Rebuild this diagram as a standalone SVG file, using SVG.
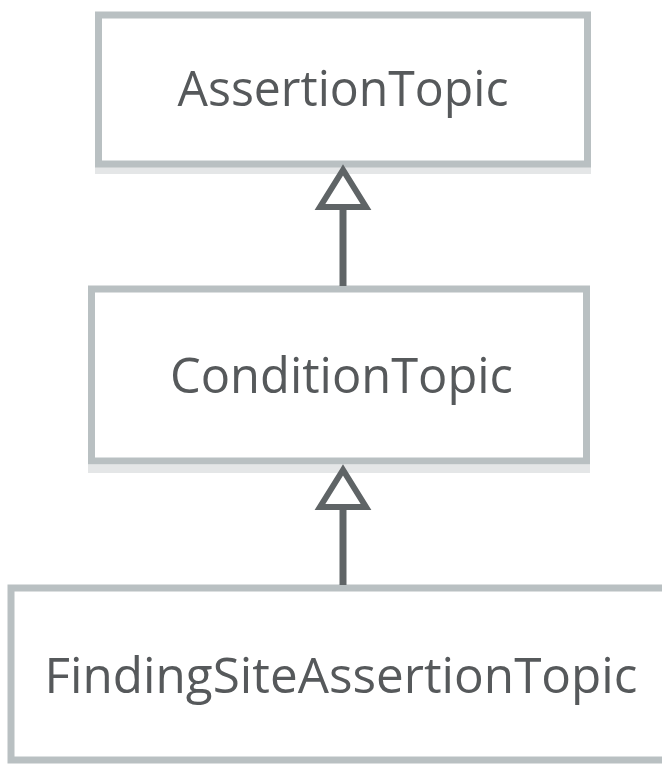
<svg xmlns="http://www.w3.org/2000/svg" width="662" height="765" viewBox="0 0 662 765">
<style>
.box{fill:#ffffff;stroke:#b9c0c2;stroke-width:7}
.shadow{fill:#e4e6e7}
.lbl{font-family:"Open Sans","Noto Sans",sans-serif;font-size:50px;fill:#56595b;text-anchor:middle}
.line{stroke:#5f6466;stroke-width:7;fill:none}
.head{fill:#ffffff;stroke:#5f6466;stroke-width:6;stroke-linejoin:miter}
</style>
<rect width="662" height="765" fill="#ffffff"/>
<g id="node-assertion">
<rect class="shadow" x="95" y="167" width="496" height="7"/>
<rect class="box" x="98.5" y="15" width="489" height="149"/>
<text class="lbl" x="343" y="106" textLength="331" lengthAdjust="spacingAndGlyphs">AssertionTopic</text>
</g>
<g id="node-condition">
<rect class="shadow" x="88" y="465" width="502" height="8"/>
<rect class="box" x="91.5" y="289" width="495" height="172"/>
<text class="lbl" x="341.5" y="393" textLength="343" lengthAdjust="spacingAndGlyphs">ConditionTopic</text>
</g>
<g id="node-findingsite">
<rect class="box" x="11" y="588" width="660" height="172"/>
<text class="lbl" x="341" y="693" textLength="593" lengthAdjust="spacingAndGlyphs">FindingSiteAssertionTopic</text>
</g>
<g id="connectors">
<line class="line" x1="343" y1="208" x2="343" y2="286"/>
<polygon class="head" points="343,170 320,207 366,207"/>
<line class="line" x1="343" y1="508" x2="343" y2="585"/>
<polygon class="head" points="343,470 320,507 366,507"/>
</g>
</svg>
